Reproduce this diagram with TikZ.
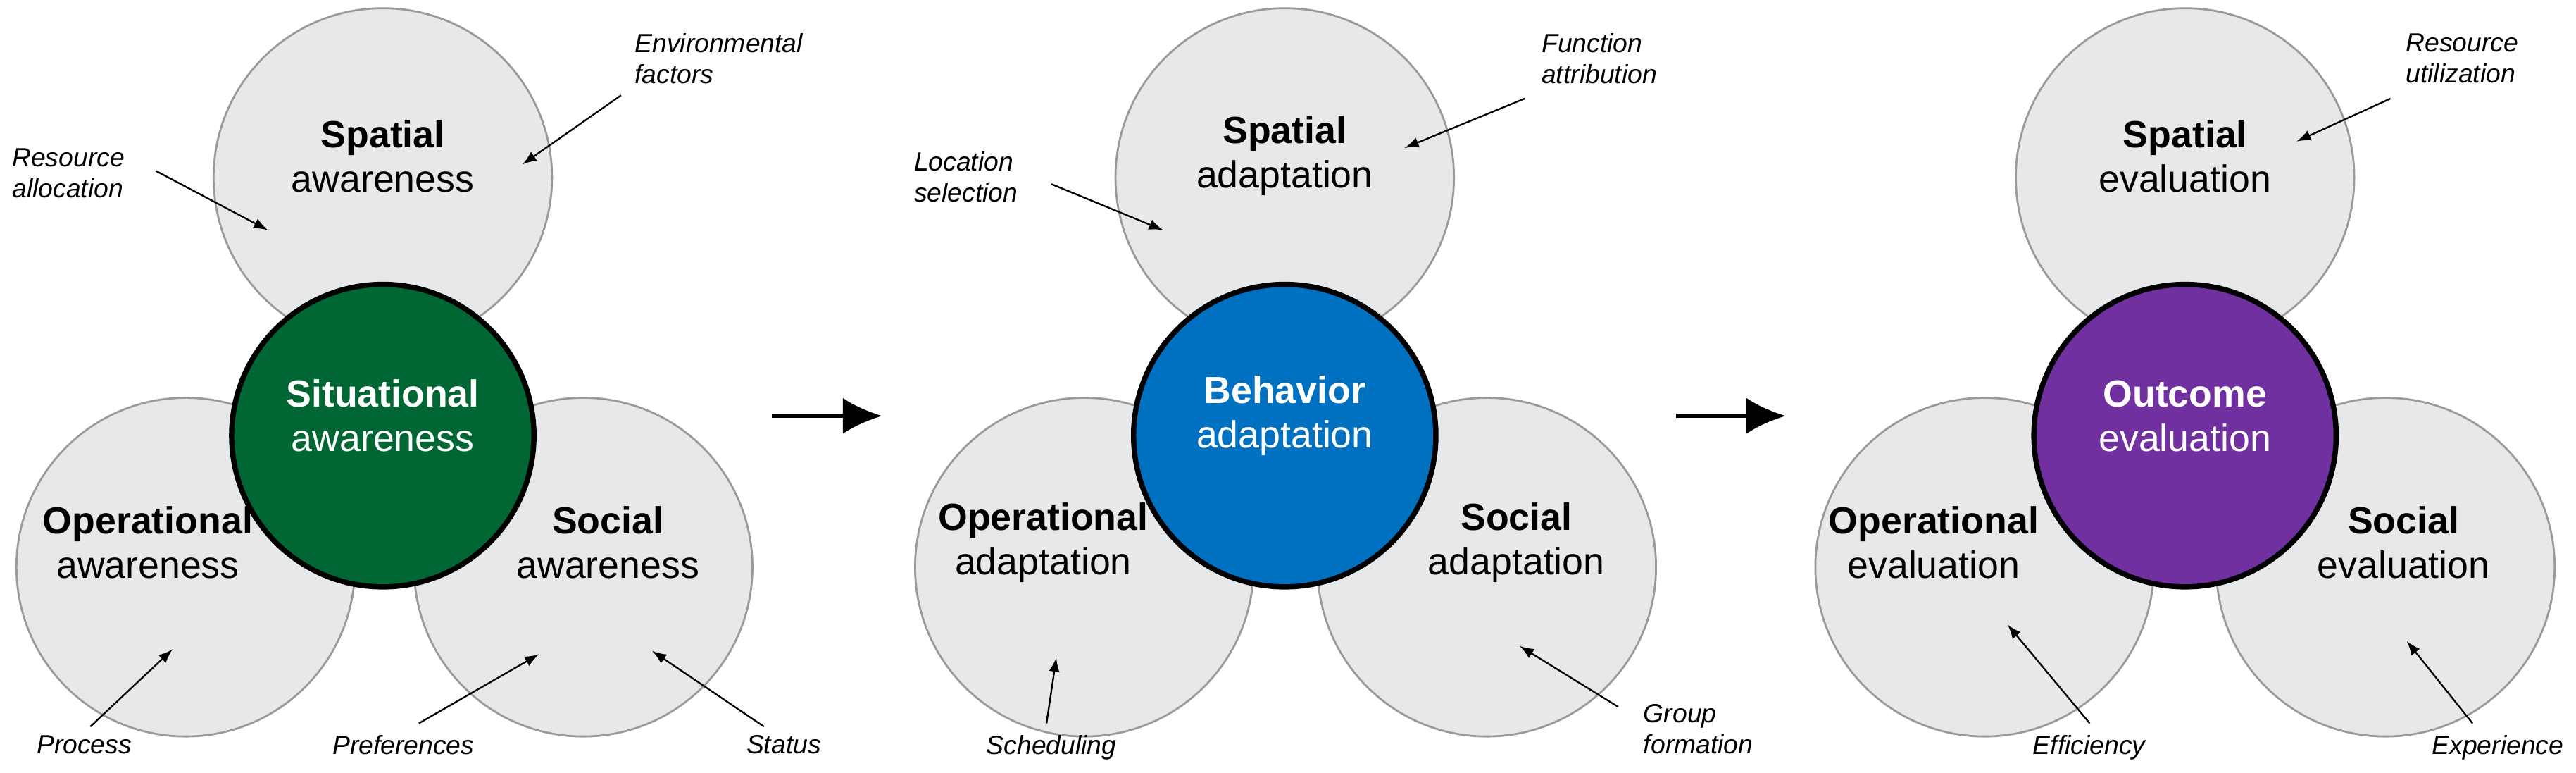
\documentclass[tikz,border=0pt]{standalone}
\usepackage{fontspec}
\setmainfont{Liberation Sans}
\usetikzlibrary{arrows.meta}
\begin{document}
\begin{tikzpicture}[x=0.5pt,y=-0.5pt,
 sat/.style={circle,minimum size=206*0.5pt,fill=satfill,draw=satdraw,line width=0.6pt,inner sep=0pt},
 core/.style={circle,minimum size=184*0.5pt,draw=black,line width=1.6pt,inner sep=0pt},
 txt/.style={align=center,font=\fontsize{11.5}{13.5}\selectfont,inner sep=0pt},
 wtxt/.style={txt,text=white},
 lab/.style={font=\itshape\fontsize{8}{9.5}\selectfont,align=left,inner sep=1pt},
 pt/.style={-latex,line width=0.5pt},
 big/.style={-{Latex[length=12pt,width=11pt]},line width=1.2pt}]
\definecolor{satfill}{HTML}{E7E8EA}
\definecolor{satdraw}{HTML}{9A9A9A}
\definecolor{cgreen}{HTML}{006633}
\definecolor{cblue}{HTML}{0070C0}
\definecolor{cpurple}{HTML}{7030A0}
\useasboundingbox (0,0) rectangle (1568,470);
% group 1
\node[sat] (t1) at (233,108) {};
\node[sat] (l1) at (113,345) {};
\node[sat] (r1) at (355,345) {};
\node[core,fill=cgreen] (c1) at (233,265) {};
\node[txt] (tt1) at (233,95) {\textbf{Spatial}\\awareness};
\node[txt] (tl1) at (90,330) {\textbf{Operational}\\awareness};
\node[txt] (tr1) at (370,330) {\textbf{Social}\\awareness};
\node[wtxt] (tc1) at (233,253) {\textbf{Situational}\\awareness};
% group 2
\node[sat] (t2) at (782,108) {};
\node[sat] (l2) at (660,345) {};
\node[sat] (r2) at (905,345) {};
\node[core,fill=cblue] (c2) at (782,265) {};
\node[txt] (tt2) at (782,95) {\textbf{Spatial}\\adaptation};
\node[txt] (tl2) at (635,330) {\textbf{Operational}\\adaptation};
\node[txt] (tr2) at (923,330) {\textbf{Social}\\adaptation};
\node[wtxt] (tc2) at (782,253) {\textbf{Behavior}\\adaptation};
% group 3
\node[sat] (t3) at (1330,108) {};
\node[sat] (l3) at (1208,345) {};
\node[sat] (r3) at (1452,345) {};
\node[core,fill=cpurple] (c3) at (1330,265) {};
\node[txt] (tt3) at (1330,95) {\textbf{Spatial}\\evaluation};
\node[txt] (tl3) at (1177,330) {\textbf{Operational}\\evaluation};
\node[txt] (tr3) at (1463,330) {\textbf{Social}\\evaluation};
\node[wtxt] (tc3) at (1330,253) {\textbf{Outcome}\\evaluation};
% big arrows
\coordinate (a1s) at (470,253); \coordinate (a1e) at (537,253);
\coordinate (a2s) at (1020,253); \coordinate (a2e) at (1087,253);
\draw[big] (a1s) -- (a1e);
\draw[big] (a2s) -- (a2e);
% labels group 1
\node[lab,anchor=north west] (env) at (384,18) {Environmental\\factors};
\draw[pt] (378,58) -- (318,100);
\node[lab,anchor=north west] (res) at (5,88) {Resource\\allocation};
\draw[pt] (95,104) -- (163,140);
\node[lab,anchor=north west] (proc) at (20,445) {Process};
\draw[pt] (55,442) -- (105,395);
\node[lab,anchor=north west] (pref) at (200,445) {Preferences};
\draw[pt] (255,440) -- (328,398);
\node[lab,anchor=north west] (stat) at (452,445) {Status};
\draw[pt] (465,442) -- (397,396);
% labels group 2
\node[lab,anchor=north west] (fun) at (936,18) {Function\\attribution};
\draw[pt] (928,60) -- (855,90);
\node[lab,anchor=north west] (loc) at (554,90) {Location\\selection};
\draw[pt] (640,112) -- (708,140);
\node[lab,anchor=north west] (sch) at (598,445) {Scheduling};
\draw[pt] (637,440) -- (643,400);
\node[lab,anchor=north west] (grp) at (998,426) {Group\\formation};
\draw[pt] (985,430) -- (925,393);
% labels group 3
\node[lab,anchor=north west] (ru) at (1462,18) {Resource\\utilization};
\draw[pt] (1455,60) -- (1398,86);
\node[lab,anchor=north west] (eff) at (1235,445) {Efficiency};
\draw[pt] (1272,440) -- (1222,380);
\node[lab,anchor=north west] (exp) at (1478,445) {Experience};
\draw[pt] (1505,440) -- (1465,390);
\end{tikzpicture}
\end{document}
